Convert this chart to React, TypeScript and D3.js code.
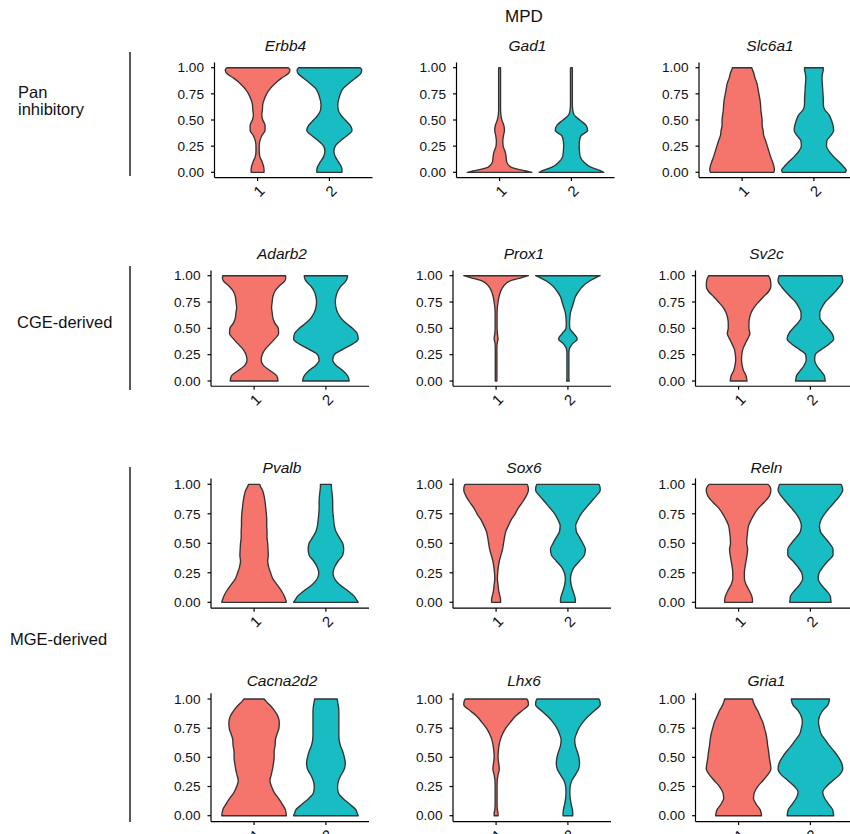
import React from "react";
import * as d3 from "d3";

// density grid (expression level on y)
const LEVELS = [0, 0.02, 0.05, 0.1, 0.15, 0.2, 0.25, 0.3, 0.35, 0.4, 0.45, 0.5, 0.55, 0.6, 0.65, 0.7, 0.75, 0.8, 0.85, 0.9, 0.95, 0.98, 1];
const GROUPS = ["1", "2"];
const Y_TICKS = [0, 0.25, 0.5, 0.75, 1];

// relative violin widths per gene, group 1 and group 2
const ERBB4_1 = [0.2, 0.2, 0.19, 0.14, 0.07, 0.05, 0.05, 0.07, 0.13, 0.23, 0.23, 0.16, 0.13, 0.15, 0.16, 0.21, 0.28, 0.39, 0.54, 0.74, 0.97, 1.0, 0.95];
const ERBB4_2 = [0.39, 0.39, 0.37, 0.28, 0.18, 0.14, 0.18, 0.34, 0.54, 0.7, 0.64, 0.49, 0.35, 0.27, 0.26, 0.29, 0.34, 0.42, 0.6, 0.8, 0.98, 1.0, 0.95];
const GAD1_1 = [1.0, 0.7, 0.35, 0.22, 0.2, 0.17, 0.11, 0.1, 0.12, 0.15, 0.13, 0.07, 0.04, 0.03, 0.03, 0.03, 0.03, 0.03, 0.03, 0.03, 0.03, 0.03, 0.025];
const GAD1_2 = [1.0, 0.85, 0.6, 0.38, 0.27, 0.25, 0.24, 0.25, 0.3, 0.5, 0.45, 0.26, 0.08, 0.04, 0.03, 0.03, 0.03, 0.03, 0.03, 0.03, 0.03, 0.03, 0.025];
const SLC6A1_1 = [0.98, 1.0, 0.99, 0.94, 0.88, 0.83, 0.78, 0.73, 0.67, 0.65, 0.62, 0.62, 0.6, 0.58, 0.57, 0.55, 0.52, 0.49, 0.46, 0.4, 0.36, 0.32, 0.3];
const SLC6A1_2 = [0.98, 1.0, 0.93, 0.78, 0.61, 0.47, 0.39, 0.4, 0.52, 0.61, 0.59, 0.54, 0.47, 0.33, 0.29, 0.29, 0.28, 0.27, 0.26, 0.25, 0.27, 0.29, 0.29];
const ADARB2_1 = [0.74, 0.73, 0.7, 0.49, 0.28, 0.22, 0.25, 0.34, 0.49, 0.64, 0.76, 0.75, 0.64, 0.58, 0.56, 0.54, 0.56, 0.58, 0.64, 0.77, 0.95, 0.98, 0.97];
const ADARB2_2 = [0.72, 0.71, 0.67, 0.52, 0.31, 0.21, 0.26, 0.52, 0.82, 1.0, 0.97, 0.82, 0.62, 0.46, 0.36, 0.31, 0.29, 0.31, 0.36, 0.46, 0.62, 0.66, 0.67];
const PROX1_1 = [0.025, 0.025, 0.025, 0.025, 0.025, 0.025, 0.025, 0.025, 0.03, 0.06, 0.04, 0.03, 0.03, 0.03, 0.03, 0.04, 0.06, 0.09, 0.14, 0.23, 0.44, 0.77, 1.0];
const PROX1_2 = [0.04, 0.03, 0.03, 0.03, 0.03, 0.03, 0.03, 0.04, 0.13, 0.29, 0.18, 0.06, 0.05, 0.06, 0.08, 0.13, 0.18, 0.23, 0.33, 0.46, 0.67, 0.85, 1.0];
const SV2C_1 = [0.26, 0.25, 0.23, 0.15, 0.11, 0.09, 0.1, 0.13, 0.2, 0.28, 0.35, 0.32, 0.32, 0.34, 0.39, 0.48, 0.62, 0.77, 0.93, 1.0, 0.99, 0.96, 0.93];
const SV2C_2 = [0.46, 0.45, 0.43, 0.31, 0.19, 0.13, 0.15, 0.34, 0.57, 0.72, 0.67, 0.54, 0.39, 0.29, 0.29, 0.36, 0.46, 0.62, 0.77, 0.91, 1.0, 0.99, 0.97];
const PVALB_1 = [1.0, 0.98, 0.94, 0.84, 0.71, 0.58, 0.51, 0.45, 0.42, 0.44, 0.43, 0.42, 0.4, 0.4, 0.39, 0.39, 0.38, 0.36, 0.34, 0.31, 0.26, 0.2, 0.17];
const PVALB_2 = [1.0, 0.95, 0.88, 0.67, 0.42, 0.27, 0.22, 0.27, 0.38, 0.52, 0.55, 0.52, 0.41, 0.31, 0.26, 0.24, 0.22, 0.21, 0.21, 0.2, 0.18, 0.17, 0.17];
const SOX6_1 = [0.14, 0.14, 0.12, 0.08, 0.06, 0.04, 0.05, 0.07, 0.1, 0.15, 0.2, 0.23, 0.26, 0.3, 0.38, 0.47, 0.59, 0.69, 0.82, 0.93, 1.0, 0.99, 0.96];
const SOX6_2 = [0.23, 0.23, 0.21, 0.15, 0.1, 0.08, 0.11, 0.2, 0.36, 0.51, 0.54, 0.46, 0.36, 0.26, 0.24, 0.31, 0.41, 0.56, 0.71, 0.87, 1.0, 0.99, 0.96];
const RELN_1 = [0.43, 0.43, 0.41, 0.33, 0.23, 0.18, 0.18, 0.2, 0.23, 0.26, 0.28, 0.25, 0.26, 0.28, 0.31, 0.39, 0.49, 0.62, 0.8, 0.95, 1.0, 0.97, 0.9];
const RELN_2 = [0.64, 0.63, 0.62, 0.49, 0.33, 0.24, 0.27, 0.39, 0.54, 0.7, 0.7, 0.59, 0.44, 0.31, 0.28, 0.33, 0.44, 0.59, 0.75, 0.9, 1.0, 0.98, 0.95];
const CACNA2D2_1 = [1.0, 0.99, 0.97, 0.87, 0.75, 0.62, 0.54, 0.49, 0.53, 0.57, 0.6, 0.62, 0.62, 0.65, 0.66, 0.71, 0.77, 0.78, 0.74, 0.63, 0.48, 0.37, 0.31];
const CACNA2D2_2 = [1.0, 0.97, 0.93, 0.73, 0.52, 0.38, 0.36, 0.39, 0.47, 0.57, 0.6, 0.57, 0.52, 0.45, 0.41, 0.4, 0.4, 0.4, 0.4, 0.4, 0.38, 0.36, 0.35];
const LHX6_1 = [0.06, 0.06, 0.04, 0.03, 0.03, 0.03, 0.03, 0.035, 0.06, 0.1, 0.08, 0.06, 0.07, 0.09, 0.13, 0.2, 0.3, 0.44, 0.59, 0.8, 1.0, 0.99, 0.95];
const LHX6_2 = [0.15, 0.15, 0.14, 0.1, 0.07, 0.06, 0.07, 0.12, 0.23, 0.33, 0.36, 0.34, 0.29, 0.23, 0.21, 0.26, 0.34, 0.46, 0.62, 0.82, 1.0, 0.99, 0.96];
const GRIA1_1 = [0.71, 0.7, 0.67, 0.54, 0.46, 0.49, 0.59, 0.75, 0.9, 1.0, 0.98, 0.95, 0.93, 0.9, 0.88, 0.85, 0.8, 0.75, 0.67, 0.59, 0.49, 0.45, 0.43];
const GRIA1_2 = [0.72, 0.71, 0.69, 0.56, 0.44, 0.38, 0.49, 0.69, 0.9, 1.0, 0.97, 0.87, 0.74, 0.59, 0.46, 0.33, 0.28, 0.25, 0.28, 0.38, 0.54, 0.58, 0.59];

const GENES = [
  ["Erbb4", "Gad1", "Slc6a1"],
  ["Adarb2", "Prox1", "Sv2c"],
  ["Pvalb", "Sox6", "Reln"],
  ["Cacna2d2", "Lhx6", "Gria1"],
];
const DENSITIES: Record<string, number[][]> = {
  Erbb4: [ERBB4_1, ERBB4_2],
  Gad1: [GAD1_1, GAD1_2],
  Slc6a1: [SLC6A1_1, SLC6A1_2],
  Adarb2: [ADARB2_1, ADARB2_2],
  Prox1: [PROX1_1, PROX1_2],
  Sv2c: [SV2C_1, SV2C_2],
  Pvalb: [PVALB_1, PVALB_2],
  Sox6: [SOX6_1, SOX6_2],
  Reln: [RELN_1, RELN_2],
  Cacna2d2: [CACNA2D2_1, CACNA2D2_2],
  Lhx6: [LHX6_1, LHX6_2],
  Gria1: [GRIA1_1, GRIA1_2],
};
const COLORS = ["#F5756D", "#17BDC2"];

// layout
const W = 850;
const H = 834;
const FONT = "'Liberation Sans', Arial, Helvetica, sans-serif";
const ROWS = [
  { top: 67.7, bottom: 172.3, titleY: 50.5, shift: 3.5 },
  { top: 275.7, bottom: 381, titleY: 259, shift: 0 },
  { top: 484.3, bottom: 602.3, titleY: 472.7, shift: 0 },
  { top: 699, bottom: 815.7, titleY: 686, shift: 0 },
];
const COL_X = [211, 453, 695.5];
const AXIS_LEN = 158;

const GROUP_LABELS = [
  { lines: ["Pan", "inhibitory"], x: 18, y: 98, y0: 52, y1: 176 },
  { lines: ["CGE-derived"], x: 17, y: 328, y0: 266, y1: 390 },
  { lines: ["MGE-derived"], x: 10, y: 645, y0: 467, y1: 822 },
];

function Panel({ gene, ax, row }: { gene: string; ax: number; row: typeof ROWS[number] }) {
  const y = d3.scaleLinear().domain([0, 1]).range([row.bottom, row.top]);
  const x = d3.scalePoint<string>().domain(GROUPS).range([ax, ax + AXIS_LEN]).padding(0.6);
  const halfMax = x.step() * 0.45;
  const axisY = y(-0.05);
  const fmt = d3.format(".2f");
  return (
    <g>
      <text x={ax + 71} y={row.titleY} fontSize={15.5} fontStyle="italic" textAnchor="middle" fill="#111">
        {gene}
      </text>
      {GROUPS.map((g, gi) => {
        const cx = x(g) as number;
        const pts = LEVELS.map((lv, i) => ({ v: lv, w: DENSITIES[gene][gi][i] }));
        const area = d3
          .area<{ v: number; w: number }>()
          .y((d) => y(d.v))
          .x0((d) => cx - d.w * halfMax)
          .x1((d) => cx + d.w * halfMax)
          .curve(d3.curveMonotoneY);
        return (
          <path
            key={g}
            d={area(pts) || ""}
            fill={COLORS[gi]}
            stroke="#333"
            strokeWidth={1.35}
            strokeLinejoin="round"
          />
        );
      })}
      {/* y axis */}
      <line x1={ax} x2={ax} y1={y(1.05)} y2={axisY} stroke="#000" strokeWidth={1.2} />
      {Y_TICKS.map((t) => (
        <g key={t}>
          <line x1={ax - 3.5} x2={ax} y1={y(t)} y2={y(t)} stroke="#000" strokeWidth={1.2} />
          <text x={ax - 10.5} y={y(t)} dy="0.35em" fontSize={13.6} textAnchor="end" fill="#111">
            {fmt(t)}
          </text>
        </g>
      ))}
      {/* x axis */}
      <line x1={ax} x2={ax + AXIS_LEN} y1={axisY} y2={axisY} stroke="#000" strokeWidth={1.2} />
      {GROUPS.map((g) => {
        const cx = x(g) as number;
        const lx = cx + 1.5;
        const ly = axisY + 13.5;
        return (
          <g key={g}>
            <line x1={cx} x2={cx} y1={axisY} y2={axisY + 3.5} stroke="#000" strokeWidth={1.2} />
            <text
              x={lx}
              y={ly}
              dy="0.35em"
              fontSize={15}
              textAnchor="middle"
              transform={`rotate(-45 ${lx} ${ly})`}
              fill="#111"
            >
              {g}
            </text>
          </g>
        );
      })}
    </g>
  );
}

export default function App() {
  return (
    <svg
      width={W}
      height={H}
      style={{ position: "absolute", left: 0, top: 0, background: "#fff" }}
      fontFamily={FONT}
    >
      <rect x={0} y={0} width={W} height={H} fill="#fff" />
      <text x={524} y={22} fontSize={17} textAnchor="middle" fill="#111">
        MPD
      </text>
      {GROUP_LABELS.map((gl, i) => (
        <g key={i}>
          {gl.lines.map((ln, j) => (
            <text key={j} x={gl.x} y={gl.y + j * 17} fontSize={16.5} fill="#111">
              {ln}
            </text>
          ))}
          <line x1={130} x2={130} y1={gl.y0} y2={gl.y1} stroke="#000" strokeWidth={1.3} />
        </g>
      ))}
      {GENES.map((rowGenes, ri) =>
        rowGenes.map((gene, ci) => (
          <Panel key={gene} gene={gene} ax={COL_X[ci] + ROWS[ri].shift} row={ROWS[ri]} />
        ))
      )}
    </svg>
  );
}
